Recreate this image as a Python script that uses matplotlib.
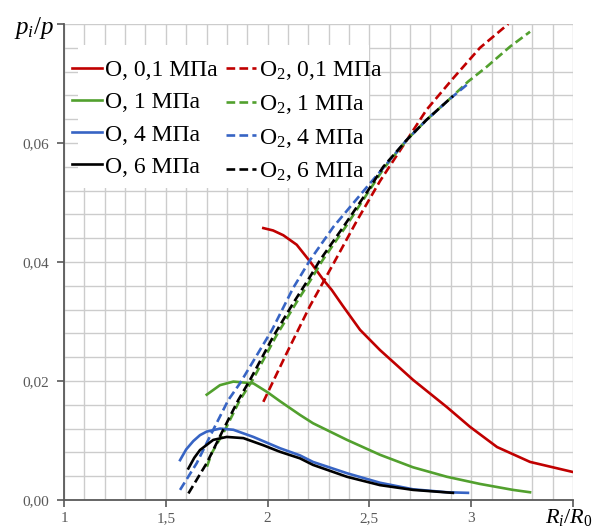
import matplotlib
matplotlib.use("Agg")
import matplotlib.pyplot as plt
from matplotlib.patches import Rectangle

plt.rcParams['font.family'] = ['Liberation Serif', 'DejaVu Serif']
plt.rcParams['mathtext.fontset'] = 'custom'
plt.rcParams['mathtext.rm'] = 'Liberation Serif'
plt.rcParams['mathtext.it'] = 'Liberation Serif:italic'

# O (atomic) curves, solid
o01_x = [1.979, 2.027, 2.077, 2.143, 2.208, 2.274, 2.315, 2.370, 2.454, 2.552, 2.714, 2.881, 2.994, 3.127, 3.289, 3.5]
o01_y = [0.0457, 0.0453, 0.0445, 0.0429, 0.0401, 0.0370, 0.0353, 0.0326, 0.0286, 0.0252, 0.0202, 0.0156, 0.0123, 0.0089, 0.0064, 0.0047]

o1_x = [1.701, 1.766, 1.832, 1.930, 2.000, 2.061, 2.159, 2.223, 2.390, 2.552, 2.714, 2.881, 3.043, 3.205, 3.289]
o1_y = [0.0177, 0.0193, 0.0199, 0.0196, 0.0181, 0.0166, 0.0143, 0.0129, 0.0101, 0.0076, 0.0055, 0.0039, 0.0027, 0.0017, 0.0013]

o4_x = [1.570, 1.600, 1.635, 1.668, 1.701, 1.766, 1.832, 1.930, 2.061, 2.159, 2.223, 2.390, 2.552, 2.714, 2.881, 2.984]
o4_y = [0.0067, 0.0085, 0.0099, 0.0109, 0.0115, 0.0120, 0.0118, 0.0106, 0.0087, 0.0075, 0.0064, 0.0045, 0.0029, 0.0018, 0.0013, 0.0012]

o6_x = [1.611, 1.640, 1.668, 1.733, 1.799, 1.881, 1.979, 2.061, 2.159, 2.223, 2.390, 2.552, 2.714, 2.910]
o6_y = [0.0053, 0.0071, 0.0084, 0.0101, 0.0106, 0.0104, 0.0092, 0.0081, 0.0070, 0.0059, 0.0039, 0.0025, 0.0017, 0.0012]

# O2 (molecular) curves, dashed
o2_01_x = [1.979, 2.094, 2.208, 2.323, 2.438, 2.552, 2.665, 2.781, 2.912, 3.043, 3.182]
o2_01_y = [0.0165, 0.0247, 0.0326, 0.0397, 0.0469, 0.0536, 0.0595, 0.0656, 0.0709, 0.0760, 0.0800]

o2_1_x = [1.702, 1.726, 1.791, 1.864, 1.927, 2.041, 2.140, 2.221, 2.270, 2.383, 2.501, 2.572, 2.683, 2.781, 2.888, 2.984, 3.076, 3.191, 3.289]
o2_1_y = [0.0056, 0.0079, 0.0118, 0.0168, 0.0202, 0.0275, 0.0331, 0.0375, 0.0403, 0.0459, 0.0521, 0.0558, 0.0605, 0.0639, 0.0672, 0.0703, 0.0728, 0.0762, 0.0787]

o2_4_x = [1.570, 1.652, 1.733, 1.807, 1.864, 2.022, 2.125, 2.208, 2.323, 2.421, 2.495, 2.568, 2.683, 2.781, 2.888, 2.986]
o2_4_y = [0.0017, 0.0062, 0.0118, 0.0168, 0.0196, 0.0286, 0.0356, 0.0403, 0.0459, 0.0499, 0.0529, 0.0558, 0.0605, 0.0639, 0.0672, 0.0700]

o2_6_x = [1.611, 1.701, 1.782, 1.856, 1.914, 2.028, 2.126, 2.208, 2.257, 2.372, 2.495, 2.568, 2.683, 2.781, 2.888, 2.911]
o2_6_y = [0.0011, 0.0062, 0.0118, 0.0168, 0.0202, 0.0275, 0.0331, 0.0375, 0.0403, 0.0459, 0.0521, 0.0560, 0.0605, 0.0639, 0.0672, 0.0679]

series = [
    (o01_x, o01_y, '#C00000', '-', 'O, 0,1 МПа'),
    (o2_01_x, o2_01_y, '#C00000', '--', 'O$_2$, 0,1 МПа'),
    (o1_x, o1_y, '#52A02E', '-', 'O, 1 МПа'),
    (o2_1_x, o2_1_y, '#52A02E', '--', 'O$_2$, 1 МПа'),
    (o4_x, o4_y, '#3764C4', '-', 'O, 4 МПа'),
    (o2_4_x, o2_4_y, '#3764C4', '--', 'O$_2$, 4 МПа'),
    (o6_x, o6_y, '#000000', '-', 'O, 6 МПа'),
    (o2_6_x, o2_6_y, '#000000', '--', 'O$_2$, 6 МПа'),
]

fig = plt.figure(figsize=(5.95, 5.29), dpi=100)
ax = fig.add_axes([64 / 595, 1 - 500 / 529, 509 / 595, 476 / 529])

lines = {}
for xs, ys, c, ls, lab in series:
    if ls == '--':
        ln, = ax.plot(xs, ys, color=c, lw=1.9, ls=(0, (3.3, 1.6)), label=lab, zorder=3)
    else:
        ln, = ax.plot(xs, ys, color=c, lw=1.9, label=lab, zorder=3)
    lines[lab] = ln

ax.set_xlim(1, 3.5)
ax.set_ylim(0, 0.08)
ax.set_xticks([1, 1.5, 2, 2.5, 3, 3.5])
ax.set_xticklabels(['1', '1,5', '2', '2,5', '3', ''])
ax.set_yticks([0, 0.02, 0.04, 0.06, 0.08])
ax.set_yticklabels(['0,00', '0,02', '0,04', '0,06', ''])
ax.set_xticks([1 + 0.1 * i for i in range(26)], minor=True)
ax.set_yticks([0.004 * i for i in range(21)], minor=True)
ax.tick_params(axis='both', which='major', direction='out', length=5, width=1.2,
               color='#595959', labelcolor='#595959', labelsize=11)
ax.tick_params(axis='y', which='major', pad=6)
ax.tick_params(axis='x', which='major', pad=4)
ax.tick_params(axis='both', which='minor', length=0)
ax.grid(True, which='both', color='#cccccc', lw=1.0)
ax.set_axisbelow(True)
for s in ['top', 'right']:
    ax.spines[s].set_visible(False)
for s in ['left', 'bottom']:
    ax.spines[s].set_color('#595959')
    ax.spines[s].set_linewidth(1.3)

ax.text(54 / 595, 1 - 28 / 529, '$p_i/p$', transform=fig.transFigure,
        fontsize=18, ha='right', va='center')
ax.text(592 / 595, 1 - 517 / 529, '$R_i/R_0$', transform=fig.transFigure,
        fontsize=16, ha='right', va='center')

# white legend background (narrower than the text, as in the original)
ax.add_patch(Rectangle(((78 - 64) / 509, (500 - 188) / 476), (369 - 78) / 509,
                       (188 - 45) / 476, transform=ax.transAxes,
                       facecolor='white', edgecolor='none', zorder=1))

order = ['O, 0,1 МПа', 'O, 1 МПа', 'O, 4 МПа', 'O, 6 МПа',
         'O$_2$, 0,1 МПа', 'O$_2$, 1 МПа', 'O$_2$, 4 МПа', 'O$_2$, 6 МПа']
leg = ax.legend([lines[k] for k in order], order, loc='upper left',
                bbox_to_anchor=(0, (500 - 51) / 476), ncol=2, fontsize=17,
                frameon=False,
                handlelength=1.25, handletextpad=0.15, columnspacing=0.35,
                labelspacing=0.45, borderpad=0.35, borderaxespad=0)

fig.savefig('out.png', dpi=100)
